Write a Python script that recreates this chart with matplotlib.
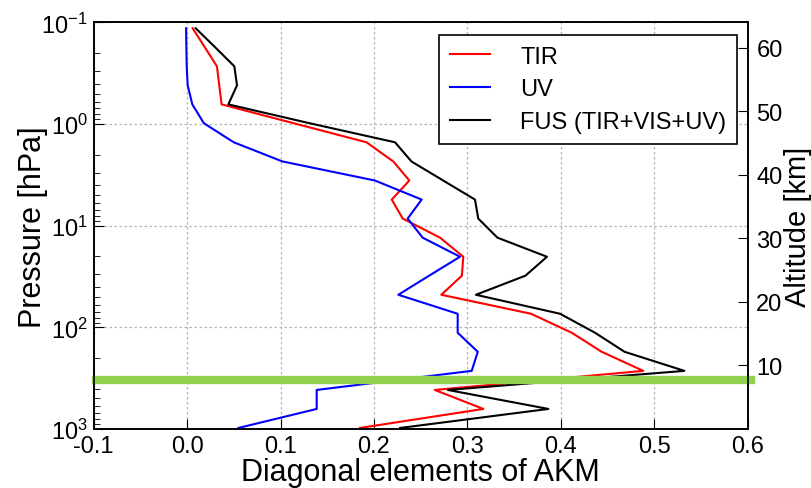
import numpy as np
import matplotlib
matplotlib.use("Agg")
import matplotlib.pyplot as plt
from matplotlib.ticker import FixedLocator

matplotlib.rcParams["font.family"] = ["Liberation Sans", "DejaVu Sans"]
matplotlib.rcParams["mathtext.fontset"] = "custom"
matplotlib.rcParams["mathtext.rm"] = "Liberation Sans"
matplotlib.rcParams["mathtext.it"] = "Liberation Sans:italic"
matplotlib.rcParams["axes.unicode_minus"] = False

# Retrieval levels (hPa), surface to top, every ~3 km
pressure_hpa = [977, 635, 413, 268, 174, 113, 73.5, 47.8, 31.0, 20.2, 13.1,
                8.5, 5.53, 3.59, 2.33, 1.51, 0.98, 0.64, 0.415, 0.27, 0.175, 0.114]

# Diagonal elements of the averaging kernel matrix at each level
akm_tir = [0.185, 0.317, 0.265, 0.488, 0.4435, 0.4115, 0.368, 0.272, 0.294, 0.2955, 0.2706,
           0.2307, 0.219, 0.2378, 0.2206, 0.192, 0.114, 0.037, 0.0345, 0.032, 0.019, 0.006]
akm_uv = [0.055, 0.1387, 0.1387, 0.3045, 0.311, 0.2895, 0.2895, 0.226, 0.259, 0.292, 0.252,
          0.236, 0.251, 0.201, 0.102, 0.050, 0.018, 0.0057, 0.0007, -0.0003, -0.0007, -0.001]
akm_fus = [0.228, 0.3865, 0.279, 0.532, 0.468, 0.4364, 0.399, 0.309, 0.362, 0.385, 0.332,
           0.3115, 0.308, 0.274, 0.240, 0.2225, 0.131, 0.0442, 0.0535, 0.0506, 0.030, 0.0093]

series_labels = ["TIR", "UV", "FUS (TIR+VIS+UV)"]
series_colors = ["red", "blue", "black"]

marker_level_hpa = 330          # highlighted pressure level
x_ticks = [-0.1, 0.0, 0.1, 0.2, 0.3, 0.4, 0.5, 0.6]
y_ticks = [1e-1, 1e0, 1e1, 1e2, 1e3]
y_tick_labels = [r"$10^{-1}$", r"$10^{0}$", r"$10^{1}$", r"$10^{2}$", r"$10^{3}$"]
alt_ticks = [10, 20, 30, 40, 50, 60]
alt_range = (0, 64)

fig = plt.figure(figsize=(8.11, 4.89), dpi=100)
ax = fig.add_axes([0.1153, 0.1207, 0.8070, 0.8313])

for values, label, color in zip([akm_tir, akm_uv, akm_fus], series_labels, series_colors):
    ax.plot(values, pressure_hpa, color=color, lw=1.5, label=label)

ax.set_yscale("log")
ax.set_ylim(1e3, 1e-1)
ax.set_xlim(-0.1, 0.6)
ax.set_xticks(x_ticks)
ax.set_xticklabels([f"{v:.1f}" for v in x_ticks])
ax.yaxis.set_major_locator(FixedLocator(y_ticks))
ax.set_yticklabels(y_tick_labels)
ax.grid(True, color="#b5b5b5", linestyle=(0, (2, 2)), lw=0.9)
ax.tick_params(which="both", direction="in", labelsize=17)
ax.tick_params(which="major", length=7, pad=4)
ax.tick_params(which="minor", length=4)
ax.set_xlabel("Diagonal elements of AKM", fontsize=22, labelpad=0)
ax.set_ylabel("Pressure [hPa]", fontsize=22, labelpad=-5)

ax.axhline(marker_level_hpa, xmin=0.004, xmax=1.004, color="#92d050", lw=6, clip_on=False, zorder=5)

leg = ax.legend(loc="upper right", fontsize=17, fancybox=False, framealpha=1,
                handlelength=1.7, borderpad=0.45, labelspacing=0.45, handletextpad=1.3,
                borderaxespad=0, bbox_to_anchor=(0.9835, 0.969))
leg.get_frame().set_edgecolor("black")
leg.get_frame().set_linewidth(1.2)

ax2 = ax.twinx()
ax2.set_ylim(*alt_range)
ax2.set_yticks(alt_ticks)
ax2.tick_params(direction="in", labelsize=17, length=7, pad=6)
ax2.set_ylabel("Altitude [km]", fontsize=21, labelpad=1)

for spine in list(ax.spines.values()) + list(ax2.spines.values()):
    spine.set_linewidth(1.2)

fig.savefig("out.png", dpi=100)
